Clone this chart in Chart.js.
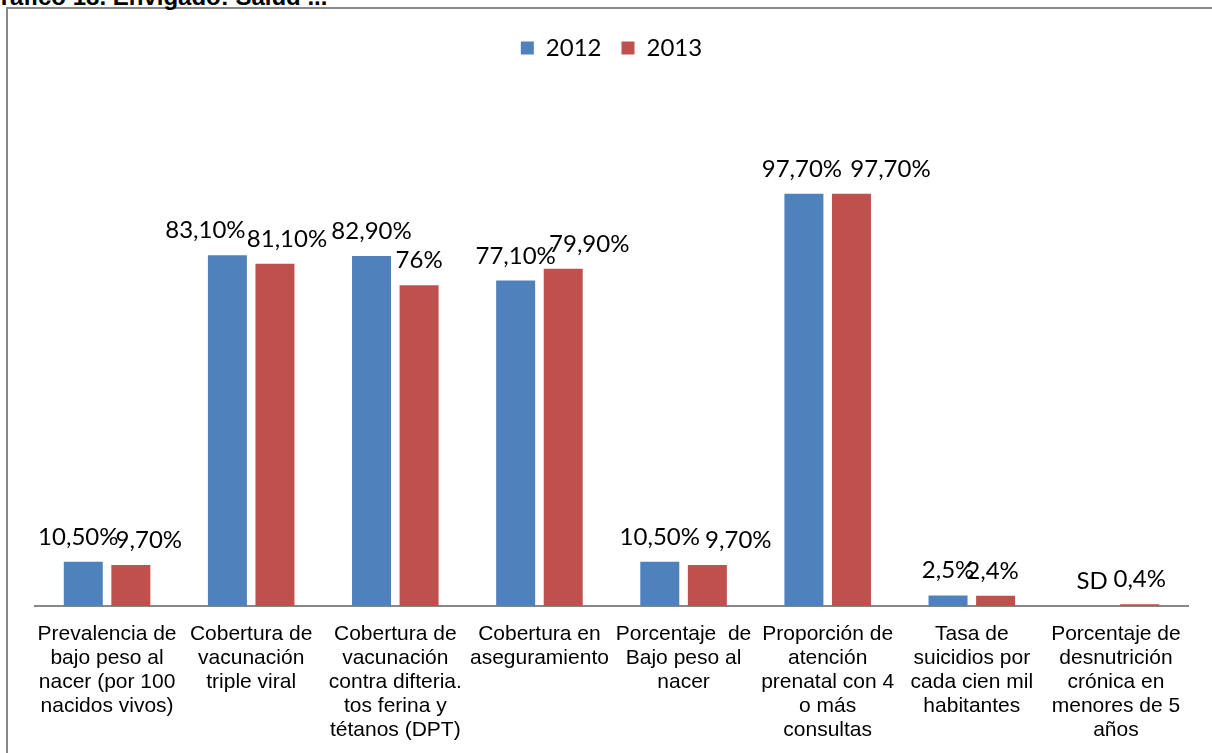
<!DOCTYPE html>
<html>
<head>
<meta charset="utf-8">
<script src="https://cdn.jsdelivr.net/npm/chart.js@4/dist/chart.umd.min.js"></script>
<style>
    body { margin: 0; background: #fff; overflow: hidden; }
    #frame {
        position: absolute; left: 6px; top: 7px; width: 1300px; height: 900px;
        border: 2px solid #888;
    }
    #title {
        position: absolute; left: -18px; top: -17px; line-height: 24px;
        font: bold 24px "Liberation Sans", Arial, sans-serif; color: #000;
    }
    #chart { position: absolute; left: 0; top: 0; }
</style>
</head>
<body>
<div id="frame"></div>
<div id="title">Gráfico 18. Envigado: Salud ...</div>
<canvas id="chart" width="1212" height="753"></canvas>
<script>
const categories = [
    ['Prevalencia de', 'bajo peso al', 'nacer (por 100', 'nacidos vivos)'],
    ['Cobertura de', 'vacunación', 'triple viral'],
    ['Cobertura de', 'vacunación', 'contra difteria.', 'tos ferina y', 'tétanos (DPT)'],
    ['Cobertura en', 'aseguramiento'],
    ['Porcentaje  de', 'Bajo peso al', 'nacer'],
    ['Proporción de', 'atención', 'prenatal con 4', 'o más', 'consultas'],
    ['Tasa de', 'suicidios por', 'cada cien mil', 'habitantes'],
    ['Porcentaje de', 'desnutrición', 'crónica en', 'menores de 5', 'años']
];
const values2012 = [10.5, 83.1, 82.9, 77.1, 10.5, 97.7, 2.5, null];
const values2013 = [9.7, 81.1, 76, 79.9, 9.7, 97.7, 2.4, 0.4];
const labels2012 = ['10,50%', '83,10%', '82,90%', '77,10%', '10,50%', '97,70%', '2,5%', 'SD'];
const labels2013 = ['9,70%', '81,10%', '76%', '79,90%', '9,70%', '97,70%', '2,4%', '0,4%'];

// sideways nudges of the value labels, like the original
const shift2012 = [-5, -22, 0, 0, 0, -2, 0, 0];
const shift2013 = [18, 12, 0, 26, 31, 39, -3, 0];

// draw value labels above each bar
const barLabels = {
    id: 'barLabels',
    afterDatasetsDraw(chart) {
        const ctx = chart.ctx;
        const texts = [labels2012, labels2013];
        const shifts = [shift2012, shift2013];
        ctx.save();
        ctx.font = '24px Lato, "Open Sans", sans-serif';
        ctx.fillStyle = '#000';
        ctx.textAlign = 'center';
        ctx.textBaseline = 'alphabetic';
        chart.data.datasets.forEach((ds, i) => {
            chart.getDatasetMeta(i).data.forEach((bar, j) => {
                const y = ds.data[j] == null ? chart.scales.y.getPixelForValue(0) : bar.y;
                ctx.fillText(texts[i][j], bar.x + shifts[i][j], y - 17);
            });
        });
        ctx.restore();
    }
};

new Chart(document.getElementById('chart'), {
    type: 'bar',
    data: {
        labels: categories,
        datasets: [
            { label: '2012', data: values2012, backgroundColor: '#4F81BD' },
            { label: '2013', data: values2013, backgroundColor: '#C0504D' }
        ]
    },
    options: {
        responsive: false,
        devicePixelRatio: 1,
        animation: false,
        categoryPercentage: 0.66,
        barPercentage: 0.82,
        layout: { padding: { left: 35, right: 24, top: 16, bottom: 0 } },
        plugins: {
            legend: {
                position: 'top',
                labels: {
                    color: '#000',
                    font: { family: 'Lato, "Open Sans", sans-serif', size: 24 },
                    boxWidth: 13,
                    boxHeight: 13,
                    padding: 20
                }
            },
            tooltip: { enabled: false }
        },
        scales: {
            x: {
                grid: { display: false },
                border: { color: '#888', width: 2 },
                ticks: {
                    color: '#000',
                    maxRotation: 0,
                    autoSkip: false,
                    padding: 8,
                    font: { family: '"Liberation Sans", Arial, sans-serif', size: 21, lineHeight: 1.143 }
                },
                afterFit(scale) { scale.height = 147; }
            },
            y: {
                display: false,
                min: 0,
                max: 127
            }
        }
    },
    plugins: [barLabels]
});
</script>
</body>
</html>
